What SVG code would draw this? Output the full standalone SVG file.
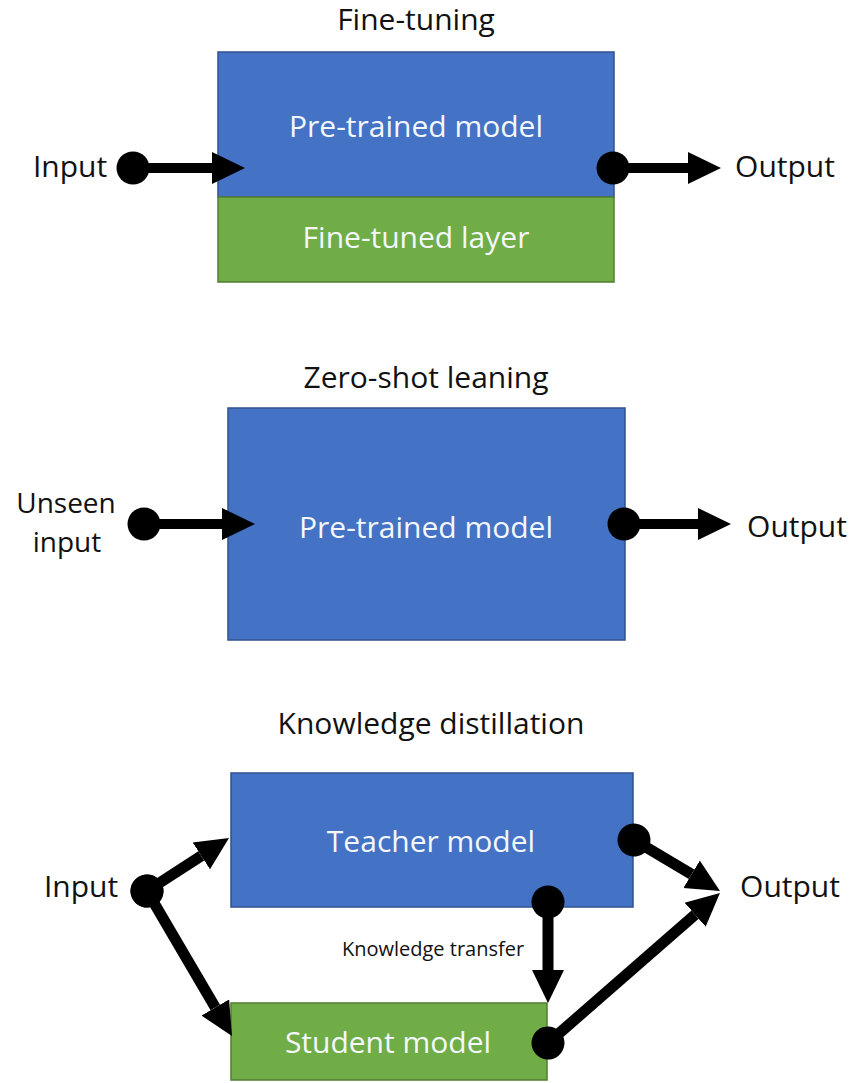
<svg xmlns="http://www.w3.org/2000/svg" width="851" height="1083" viewBox="0 0 851 1083">
  <style>
    .title { font-family: "Open Sans", "Liberation Sans", sans-serif; font-size: 30px; fill: #111; text-anchor: middle; }
    .lbl { font-family: "Open Sans", "Liberation Sans", sans-serif; font-size: 30px; fill: #111; text-anchor: middle; }
    .lbl2 { font-family: "Open Sans", "Liberation Sans", sans-serif; font-size: 28px; fill: #111; text-anchor: middle; }
    .inbox { font-family: "Open Sans", "Liberation Sans", sans-serif; font-size: 30px; fill: #f4f7fc; text-anchor: middle; }
    .small { font-family: "Open Sans", "Liberation Sans", sans-serif; font-size: 20px; fill: #111; text-anchor: middle; }
    .blue { fill: #4472C4; stroke: #2F528F; stroke-width: 1.5; }
    .green { fill: #70AD47; stroke: #507E32; stroke-width: 1.5; }
    .conn { stroke: #000; stroke-width: 10; fill: none; marker-start: url(#dot); marker-end: url(#head); }
    .conn3 { stroke-width: 11; }
  </style>
  <defs>
    <marker id="head" markerUnits="userSpaceOnUse" viewBox="0 -17 34 34" markerWidth="34" markerHeight="34" refX="0" refY="0" orient="auto">
      <path d="M0,-16 L33,0 L0,16 Z" fill="#000"/>
    </marker>
    <marker id="dot" markerUnits="userSpaceOnUse" viewBox="-17 -17 34 34" markerWidth="34" markerHeight="34" refX="0" refY="0" orient="auto">
      <circle cx="0" cy="0" r="16.5" fill="#000"/>
    </marker>
  </defs>

  <!-- Section 1: Fine-tuning -->
  <text class="title" x="416" y="30">Fine-tuning</text>
  <g id="pretrained1">
    <rect class="blue" x="218" y="52" width="396" height="145"/>
    <text class="inbox" x="416" y="137">Pre-trained model</text>
  </g>
  <g id="finetuned">
    <rect class="green" x="218" y="197" width="396" height="85"/>
    <text class="inbox" x="416" y="248">Fine-tuned layer</text>
  </g>
  <g id="input1"><text class="lbl" x="70" y="177">Input</text></g>
  <g id="output1"><text class="lbl" x="785" y="177">Output</text></g>

  <!-- Section 2: Zero-shot -->
  <text class="title" x="426" y="388">Zero-shot leaning</text>
  <g id="pretrained2">
    <rect class="blue" x="228" y="408" width="397" height="232"/>
    <text class="inbox" x="426" y="538">Pre-trained model</text>
  </g>
  <g id="unseen">
    <text class="lbl2" x="66" y="513">Unseen</text>
    <text class="lbl2" x="67" y="552">input</text>
  </g>
  <g id="output2"><text class="lbl" x="797" y="537">Output</text></g>

  <!-- Section 3: Knowledge distillation -->
  <text class="title" x="431" y="734">Knowledge distillation</text>
  <g id="teacher">
    <rect class="blue" x="231" y="773" width="402" height="134"/>
    <text class="inbox" x="431" y="852">Teacher model</text>
  </g>
  <g id="student">
    <rect class="green" x="231" y="1003" width="316" height="77"/>
    <text class="inbox" x="388" y="1053">Student model</text>
  </g>
  <g id="input3"><text class="lbl" x="81" y="897">Input</text></g>
  <g id="output3"><text class="lbl" x="790" y="897">Output</text></g>
  <text class="small" x="433" y="956">Knowledge transfer</text>

  <g id="connectors">
    <line class="conn" x1="133" y1="168" x2="212" y2="168"/>
    <line class="conn" x1="613" y1="168" x2="688" y2="168"/>
    <line class="conn" x1="144" y1="524" x2="222" y2="524"/>
    <line class="conn" x1="624" y1="524" x2="698" y2="524"/>
    <line class="conn conn3" x1="147" y1="891" x2="201.3" y2="855.9"/>
    <line class="conn conn3" x1="147" y1="891" x2="215.3" y2="1007.5"/>
    <line class="conn conn3" x1="634" y1="840" x2="691.6" y2="874.2"/>
    <line class="conn conn3" x1="548" y1="902" x2="548" y2="970"/>
    <line class="conn conn3" x1="548" y1="1043" x2="695.1" y2="914.7"/>
  </g>
</svg>
